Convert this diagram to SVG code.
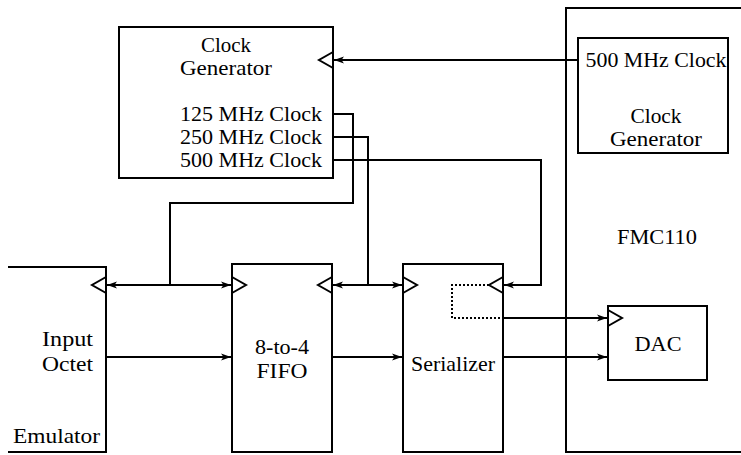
<svg xmlns="http://www.w3.org/2000/svg" width="741" height="455" viewBox="0 0 741 455">
<style>
.box{fill:none;stroke:#000;stroke-width:2}
.clk{fill:none;stroke:#000;stroke-width:2;stroke-linejoin:miter}
.w{fill:none;stroke:#000;stroke-width:2}
.dot{fill:none;stroke:#000;stroke-width:2;stroke-dasharray:2,2}
.t{font-family:'Liberation Serif','Times New Roman','DejaVu Serif','Noto Serif',Times,serif;font-size:21px;fill:#000}
.m{text-anchor:middle}
.e{text-anchor:end}
</style>
<defs>
<marker id="ah" viewBox="0 0 10 8" refX="10" refY="4" markerWidth="10" markerHeight="8" orient="auto-start-reverse" markerUnits="userSpaceOnUse">
<path d="M0,0.6 L10,4 L0,7.4 L2.5,4 Z" fill="#000"/>
</marker>
</defs>
<g class="t">
<g id="clock-generator">
<rect class="box" x="119" y="27" width="214" height="151"/>
<polyline class="clk" points="333,52 319,60 333,68"/>
<text class="m" x="226" y="52" textLength="50" lengthAdjust="spacingAndGlyphs">Clock</text>
<text class="m" x="226" y="75" textLength="92" lengthAdjust="spacingAndGlyphs">Generator</text>
<text class="e" x="322" y="121" textLength="142" lengthAdjust="spacingAndGlyphs">125 MHz Clock</text>
<text class="e" x="322" y="144" textLength="142" lengthAdjust="spacingAndGlyphs">250 MHz Clock</text>
<text class="e" x="322" y="167" textLength="142" lengthAdjust="spacingAndGlyphs">500 MHz Clock</text>
</g>
<g id="fmc110">
<rect class="box" x="566" y="8" width="200" height="444"/>
<text class="m" x="657" y="244" textLength="80" lengthAdjust="spacingAndGlyphs">FMC110</text>
</g>
<g id="fmc-clock-generator">
<rect class="box" x="578" y="38" width="150" height="115"/>
<text class="m" x="656" y="67" textLength="141" lengthAdjust="spacingAndGlyphs">500 MHz Clock</text>
<text class="m" x="656" y="123" textLength="51" lengthAdjust="spacingAndGlyphs">Clock</text>
<text class="m" x="656" y="146" textLength="92" lengthAdjust="spacingAndGlyphs">Generator</text>
</g>
<g id="emulator">
<path class="box" d="M8,267 H106 V452 H8"/>
<polyline class="clk" points="106,277 92,285 106,293"/>
<text class="e" x="93" y="346" textLength="51" lengthAdjust="spacingAndGlyphs">Input</text>
<text class="e" x="93" y="371" textLength="51" lengthAdjust="spacingAndGlyphs">Octet</text>
<text x="13" y="443" textLength="87" lengthAdjust="spacingAndGlyphs">Emulator</text>
</g>
<g id="fifo">
<rect class="box" x="232" y="264" width="100" height="188"/>
<polyline class="clk" points="232,277 246,285 232,293"/>
<polyline class="clk" points="332,277 318,285 332,293"/>
<text class="m" x="282" y="354" textLength="54" lengthAdjust="spacingAndGlyphs">8-to-4</text>
<text class="m" x="282" y="378" textLength="51" lengthAdjust="spacingAndGlyphs">FIFO</text>
</g>
<g id="serializer">
<rect class="box" x="403" y="264" width="100" height="188"/>
<polyline class="clk" points="403,277 417,285 403,293"/>
<polyline class="clk" points="503,277 489,285 503,293"/>
<text class="m" x="453" y="371" textLength="84" lengthAdjust="spacingAndGlyphs">Serializer</text>
</g>
<g id="dac">
<rect class="box" x="608" y="306" width="99" height="74"/>
<polyline class="clk" points="608,310 622,318 608,326"/>
<text class="m" x="658" y="351" textLength="47" lengthAdjust="spacingAndGlyphs">DAC</text>
</g>
</g>
<g id="connectors">
<path class="w" d="M579,60 H334" marker-end="url(#ah)"/>
<path class="w" d="M333,114 H353 V203 H170 V285"/>
<path class="w" d="M333,137 H368 V285"/>
<path class="w" d="M333,160 H541 V285 H504" marker-end="url(#ah)"/>
<path class="w" d="M107,285 H231" marker-start="url(#ah)" marker-end="url(#ah)"/>
<path class="w" d="M333,285 H402" marker-start="url(#ah)" marker-end="url(#ah)"/>
<path class="w" d="M107,357 H231" marker-end="url(#ah)"/>
<path class="w" d="M333,357 H402" marker-end="url(#ah)"/>
<path class="w" d="M504,357 H607" marker-end="url(#ah)"/>
<path class="dot" d="M489,285 H452 V318 H503"/>
<path class="w" d="M503,318 H607" marker-end="url(#ah)"/>
</g>
</svg>
